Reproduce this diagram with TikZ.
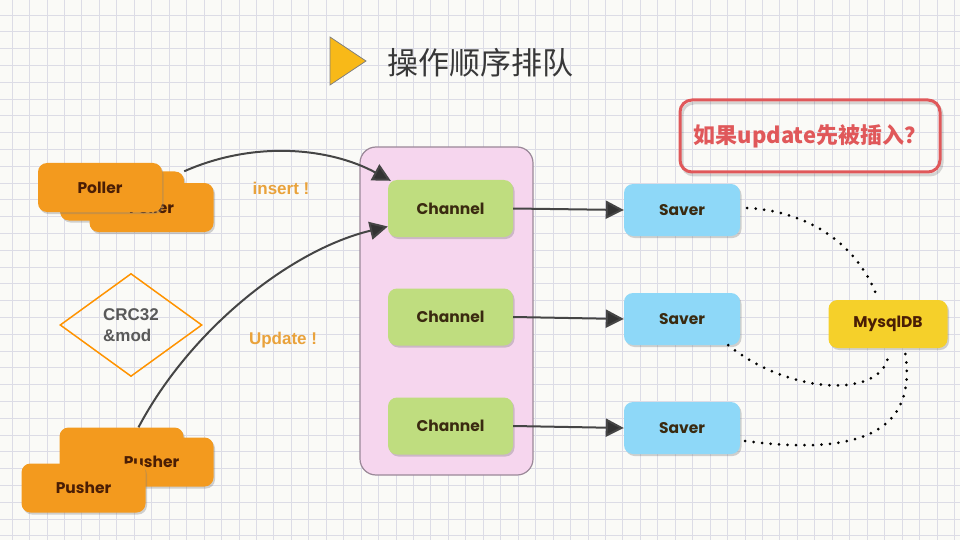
\documentclass[tikz,border=0pt]{standalone}
\usepackage{fontspec}
\setmainfont{Liberation Sans}
\newfontfamily\cjk{Noto Sans CJK SC}
\newfontfamily\nf{Poppins Bold}
\usetikzlibrary{arrows.meta,shadows,shapes.geometric}
\definecolor{bgc}{HTML}{FAFAF7}
\definecolor{gridc}{HTML}{DCDCE6}
\definecolor{orangec}{HTML}{F39A1E}
\definecolor{greenc}{HTML}{BFDD7F}
\definecolor{bluec}{HTML}{8ED8F8}
\definecolor{yellowc}{HTML}{F5D02A}
\definecolor{pinkc}{HTML}{F6D6EE}
\definecolor{pinkb}{HTML}{9A8898}
\definecolor{redc}{HTML}{E0585A}
\definecolor{labc}{HTML}{E9A23B}
\definecolor{arrc}{HTML}{454545}
\definecolor{txtc}{HTML}{3A2A10}
\definecolor{brownc}{HTML}{4A1E05}
\definecolor{tric}{HTML}{F8B918}
\tikzset{
  box/.style={rounded corners=9pt, inner sep=0pt, font=\nf\fontsize{15.5}{18}\selectfont,
    drop shadow={shadow xshift=1.5pt, shadow yshift=-2pt, opacity=0.35}},
  orangebox/.style={box, fill=orangec, text=brownc, minimum width=124pt, minimum height=49pt},
  chanbox/.style={box, fill=greenc, text=txtc, minimum width=125pt, minimum height=57pt},
  savebox/.style={box, fill=bluec, text=txtc, minimum width=116pt, minimum height=52pt},
  dbbox/.style={box, fill=yellowc, text=brownc, minimum width=119pt, minimum height=48pt},
  flow/.style={draw=arrc, line width=2pt, -{Triangle[length=18pt,width=18pt,fill=black!80]}},
  dots/.style={draw=black, line width=3pt, line cap=round, dash pattern=on 0pt off 8.5pt},
  lab/.style={font=\bfseries\fontsize{17}{19}\selectfont, text=labc},
}
\begin{document}
\begin{tikzpicture}[x=1pt,y=-1pt]
\useasboundingbox (0,0) rectangle (960,540);
\fill[bgc] (0,0) rectangle (960,540);
\foreach \i in {0,...,55} \draw[gridc, line width=0.7pt] (12+\i*17.45,0) -- (12+\i*17.45,540);
\foreach \j in {0,...,32} \draw[gridc, line width=0.7pt] (0,15+\j*16.8) -- (960,15+\j*16.8);

% title
\fill[fill=tric, draw=gray, line width=0.8pt] (330,37) -- (366,61) -- (330,85) -- cycle;
\node[anchor=west, font=\cjk\fontsize{31}{33}\selectfont, text=black!78] (title) at (384,63) {操作顺序排队};

% pink container
\node[draw=pinkb, fill=pinkc, line width=1.2pt, rounded corners=16pt, minimum width=173pt, minimum height=328pt] (cont) at (446.5,311) {};

% callout
\draw[black, opacity=0.15, line width=3pt, rounded corners=12pt] (682,103) rectangle (942,175);
\node[draw=redc, line width=3pt, rounded corners=12pt, minimum width=260pt, minimum height=72pt,
  font=\cjk\bfseries\fontsize{22}{24}\selectfont, text=redc] (call) at (810,136) {如果update先被插入？};

% pollers
\node[orangebox] (pm) at (122,196) {};
\node[orangebox] (pb) at (151.5,207.5) {\raisebox{-2pt}{Poller}};
\node[orangebox] (pf) at (100,187.5) {Poller};

% pushers
\node[orangebox] (ub1) at (121.5,452) {};
\node[orangebox] (ub2) at (151.5,462) {Pusher};
\node[orangebox] (uf) at (83.5,488) {Pusher};

% diamond
\node[diamond, draw=orange!85!yellow, line width=1.5pt, minimum width=142pt, minimum height=103pt, aspect=1.38,
  inner sep=0pt, align=left, font=\bfseries\fontsize{17}{21}\selectfont, text=black!65] (crc) at (131,325) {CRC32\\\&mod};

% labels
\node[lab] (ins) at (281,188) {insert !};
\node[lab] (upd) at (283,340) {Update !};

% channels
\node[chanbox] (c1) at (450.5,208.5) {\raisebox{-2pt}{Channel}};
\node[chanbox] (c2) at (450.5,317) {\raisebox{-2pt}{Channel}};
\node[chanbox] (c3) at (450.5,426) {\raisebox{-2pt}{Channel}};

% savers
\node[savebox] (s1) at (682,210) {Saver};
\node[savebox] (s2) at (682,319) {Saver};
\node[savebox] (s3) at (682,428) {Saver};

% db
\node[dbbox] (db) at (888,324) {MysqlDB};

% arrows
\draw[flow] (pm.north east) .. controls (255,140) and (330,148) .. ([xshift=3pt,yshift=-1pt]c1.north west);
\draw[flow] ([xshift=17pt]ub1.north) .. controls (190,330) and (290,250) .. ([yshift=-18pt]c1.west);
\draw[flow] (c1.east) -- (s1.west);
\draw[flow] (c2.east) -- (s2.west);
\draw[flow] (c3.east) -- (s3.west);

% dotted
\draw[dots] ([xshift=7pt,yshift=2pt]s1.east) .. controls (820,212) and (862,255) .. ([xshift=-11pt,yshift=3pt]db.north);
\draw[dots] ([xshift=-12pt]s2.south east) .. controls (790,395) and (885,400) .. ([xshift=1pt,yshift=-4pt]db.south);
\draw[dots] ([xshift=5pt,yshift=-13pt]s3.east) .. controls (860,456) and (918,432) .. ([xshift=17pt,yshift=-4pt]db.south);
\end{tikzpicture}
\end{document}
